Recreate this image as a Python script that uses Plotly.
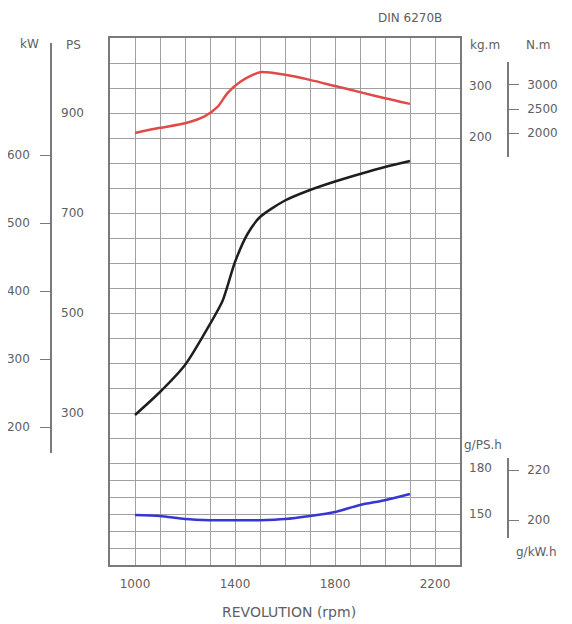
import plotly.graph_objects as go

# The page body adds an 8px margin; work in window pixels and convert.
OX, OY = 8, 8
W, H = 564, 616


def px(x):
    return (x - OX) / W


def py(y):
    return 1 - (y - OY) / H


# ---------------- data ----------------
rpm_power = [1000, 1100, 1200, 1300, 1350, 1400, 1450, 1500, 1600, 1700, 1800, 1900, 2000, 2100]
power_ps = [296, 342, 396, 478, 524, 602, 658, 692, 725, 746, 763, 778, 792, 804]

rpm_torque = [1000, 1100, 1200, 1280, 1330, 1370, 1420, 1500, 1600, 1700, 1800, 1900, 2000, 2100]
torque_kgm = [208, 218, 227, 241, 259, 286, 308, 327, 322, 312, 300, 288, 276, 265]

rpm_fuel = [1000, 1100, 1200, 1300, 1400, 1500, 1600, 1700, 1800, 1900, 2000, 2100]
fuel_gpsh = [149.3, 148.7, 146.7, 146.0, 146.0, 146.0, 146.7, 148.7, 151.3, 155.9, 159.0, 163.0]

x_ticks = [1000, 1400, 1800, 2200]
kw_ticks = [200, 300, 400, 500, 600]
ps_ticks = [300, 500, 700, 900]
kgm_ticks = [200, 300]
nm_ticks = [2000, 2500, 3000]
gpsh_ticks = [150, 180]
gkwh_ticks = [200, 220]

PS_PER_KW = 1.36

# ---------------- style ----------------
FONT = "DejaVu Sans"
TXT = "#606060"
GRID = "#a0a0a0"
AXL = "#7a7a7a"

fig = go.Figure()

# empty traces so every axis gets its subplot
for ya in ["y", "y3", "y5", "y7"]:
    fig.add_trace(go.Scatter(x=[], y=[], xaxis="x", yaxis=ya, mode="lines",
                             hoverinfo="skip", showlegend=False))

fig.add_trace(go.Scatter(x=rpm_power, y=power_ps, xaxis="x", yaxis="y2", mode="lines",
                         line=dict(color="#1e1e1e", width=2.5, shape="spline", smoothing=0.7),
                         hoverinfo="skip", showlegend=False))
fig.add_trace(go.Scatter(x=rpm_torque, y=torque_kgm, xaxis="x", yaxis="y4", mode="lines",
                         line=dict(color="#e24a4a", width=2.5, shape="spline", smoothing=0.7),
                         hoverinfo="skip", showlegend=False))
fig.add_trace(go.Scatter(x=rpm_fuel, y=fuel_gpsh, xaxis="x", yaxis="y6", mode="lines",
                         line=dict(color="#3636d4", width=2.5, shape="spline", smoothing=0.7),
                         hoverinfo="skip", showlegend=False))

# grid positions (style only)
grid_y = [i * 17 for i in range(7)] + [102 + 25 * k for k in range(1, 18)]
grid_x = list(range(900, 2301, 100))

ps_range = [220, 1040]
dom_power = [py(453), py(43)]
dom_torque = [py(157), py(62)]
dom_fuel = [py(538), py(458)]

tf = dict(family=FONT, size=12, color=TXT)
common = dict(showgrid=False, zeroline=False, fixedrange=True, tickfont=tf)

fig.update_layout(
    template="none",
    width=W, height=H,
    margin=dict(l=0, r=0, t=0, b=0),
    paper_bgcolor="white",
    plot_bgcolor="rgba(0,0,0,0)",
    font=dict(family=FONT, size=12, color=TXT),
    xaxis=dict(domain=[px(110), px(460)], range=[900, 2300], anchor="y",
               tickvals=grid_x,
               ticktext=[str(v) if v in x_ticks else "" for v in grid_x],
               showgrid=True, gridcolor=GRID, gridwidth=1,
               showline=True, mirror=True, linecolor=AXL, linewidth=1.5,
               ticks="", ticklabelstandoff=7, zeroline=False, fixedrange=True,
               tickfont=tf),
    yaxis=dict(domain=[py(565), py(38)], range=[0, 527], anchor="x",
               tickvals=grid_y, showticklabels=False,
               showgrid=True, gridcolor=GRID, gridwidth=1,
               showline=True, mirror=True, linecolor=AXL, linewidth=1.5,
               ticks="", zeroline=False, fixedrange=True),
    # power: PS (base) + kW (line with ticks)
    yaxis2=dict(domain=dom_power, anchor="free", position=px(60), side="right",
                range=ps_range, tickvals=ps_ticks, ticks="", showline=False,
                ticklabelstandoff=0, **common),
    yaxis3=dict(overlaying="y2", domain=dom_power, anchor="free", position=px(51), side="left",
                range=[ps_range[0] / PS_PER_KW, ps_range[1] / PS_PER_KW], tickvals=kw_ticks,
                ticks="outside", ticklen=10, tickcolor=AXL, tickwidth=1.2,
                showline=True, linecolor=AXL, linewidth=1.5, ticklabelstandoff=8, **common),
    # torque: kg.m (base) + N.m (line with ticks)
    yaxis4=dict(domain=dom_torque, anchor="free", position=px(468), side="right",
                range=[160.8, 347.1], tickvals=kgm_ticks, ticks="", showline=False,
                ticklabelstandoff=0, **common),
    yaxis5=dict(overlaying="y4", domain=dom_torque, anchor="free", position=px(508), side="right",
                range=[1500, 3479], tickvals=nm_ticks,
                ticks="outside", ticklen=10, tickcolor=AXL, tickwidth=1.2,
                showline=True, linecolor=AXL, linewidth=1.5, ticklabelstandoff=6, **common),
    # fuel: g/PS.h (base) + g/kW.h (line with ticks)
    yaxis6=dict(domain=dom_fuel, anchor="free", position=px(468), side="right",
                range=[134.35, 186.5], tickvals=gpsh_ticks, ticks="", showline=False,
                ticklabelstandoff=0, **common),
    yaxis7=dict(overlaying="y6", domain=dom_fuel, anchor="free", position=px(508), side="right",
                range=[192.8, 224.8], tickvals=gkwh_ticks,
                ticks="outside", ticklen=10, tickcolor=AXL, tickwidth=1.2,
                showline=True, linecolor=AXL, linewidth=1.5, ticklabelstandoff=6, **common),
)

labels = [
    ("kW", 29, 44, 12),
    ("PS", 73, 45, 12),
    ("kg.m", 485, 45, 12),
    ("N.m", 538, 45, 12),
    ("g/PS.h", 483, 445, 12),
    ("g/kW.h", 536, 552, 12),
    ("DIN 6270B", 410, 18, 12),
    ("REVOLUTION (rpm)", 289, 612, 14),
]
for text, x, y, s in labels:
    fig.add_annotation(text=text, x=px(x), y=py(y), xref="paper", yref="paper",
                       xanchor="center", yanchor="middle", showarrow=False,
                       font=dict(family=FONT, size=s, color=TXT))

fig.write_html("out.html")
